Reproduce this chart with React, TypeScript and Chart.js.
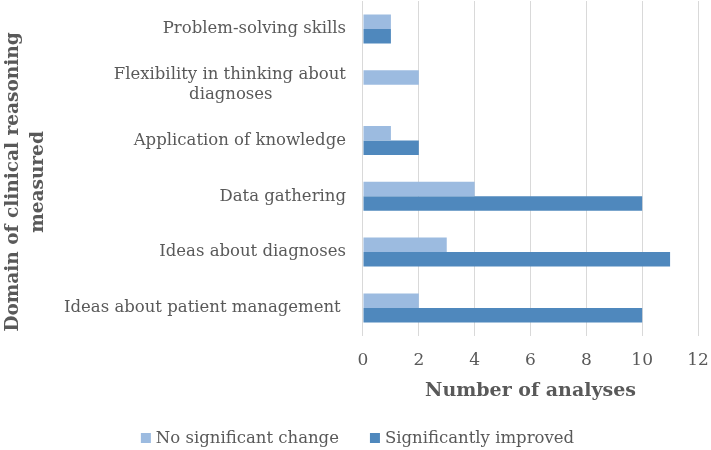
import React, { useEffect, useRef } from "react";
import { Chart, registerables } from "chart.js";

Chart.register(...registerables);

const categories: (string | string[])[] = [
  "Problem-solving skills",
  ["Flexibility in thinking about", "diagnoses"],
  "Application of knowledge",
  "Data gathering",
  "Ideas about diagnoses",
  "Ideas about patient management ",
];
const noChange = [1, 2, 1, 4, 3, 2];
const improved = [1, 0, 2, 10, 11, 10];
const xTicks = [0, 2, 4, 6, 8, 10, 12];
const yTitle = ["Domain of clinical reasoning", "measured"];
const xTitle = "Number of analyses";

const FONT = "'DejaVu Serif', serif";
const GREY = "#595959";
const LABEL_SIZE = 16.5;

// centre shorter lines of a multi-line label under the longest one
function centreLines(lines: string[]): string[] {
  const c = document.createElement("canvas").getContext("2d")!;
  c.font = `${LABEL_SIZE}px ${FONT}`;
  const widths = lines.map((l) => c.measureText(l).width);
  const max = Math.max(...widths);
  const sp = c.measureText("\u00a0").width;
  return lines.map((l, i) => l + "\u00a0".repeat(Math.round((max - widths[i]) / 2 / sp)));
}

const yTitlePlugin = {
  id: "yTitlePlugin",
  afterDraw(chart: any) {
    const ctx = chart.ctx;
    ctx.save();
    ctx.font = `bold 18.5px ${FONT}`;
    ctx.fillStyle = GREY;
    ctx.textAlign = "center";
    ctx.textBaseline = "middle";
    const cy = 182;
    const xs = [13, 38];
    yTitle.forEach((t, i) => {
      ctx.save();
      ctx.translate(xs[i], cy);
      ctx.rotate(-Math.PI / 2);
      ctx.fillText(t, 0, 0);
      ctx.restore();
    });
    ctx.restore();
  },
};

// legend drawn from the chart's own datasets
const legendPlugin = {
  id: "bottomLegend",
  afterDraw(chart: any) {
    const ctx = chart.ctx;
    const ds = chart.data.datasets;
    const box = 10;
    const gapText = 5;
    const gapItem = 31;
    ctx.save();
    ctx.font = `16.5px ${FONT}`;
    const widths = ds.map((d: any) => box + gapText + ctx.measureText(d.label).width);
    const total = widths.reduce((a: number, b: number) => a + b, 0) + gapItem * (ds.length - 1);
    let x = chart.width / 2 + 2 - total / 2;
    const cy = 438;
    ds.forEach((d: any, i: number) => {
      ctx.fillStyle = d.backgroundColor;
      ctx.fillRect(x, cy - box / 2, box, box);
      ctx.fillStyle = GREY;
      ctx.textAlign = "left";
      ctx.textBaseline = "middle";
      ctx.fillText(d.label, x + box + gapText, cy + 1);
      x += widths[i] + gapItem;
    });
    ctx.restore();
  },
};

export default function App() {
  const ref = useRef<HTMLCanvasElement | null>(null);
  useEffect(() => {
    document.body.style.margin = "0";
    const chart = new Chart(ref.current!, {
      type: "bar",
      data: {
        labels: categories,
        datasets: [
          {
            label: "No significant change",
            data: noChange,
            backgroundColor: "#9cbbe0",
            categoryPercentage: 0.52,
            barPercentage: 1,
          },
          {
            label: "Significantly improved",
            data: improved,
            backgroundColor: "#4f88bd",
            categoryPercentage: 0.52,
            barPercentage: 1,
          },
        ],
      },
      plugins: [yTitlePlugin, legendPlugin],
      options: {
        indexAxis: "y",
        animation: false,
        responsive: false,
        layout: { padding: { top: 1, right: 0, left: 47, bottom: 39 } },
        plugins: {
          legend: { display: false },
          tooltip: { enabled: false },
        },
        scales: {
          x: {
            min: 0,
            max: 12,
            afterBuildTicks: (s: any) => {
              s.ticks = xTicks.map((v) => ({ value: v }));
            },
            afterFit: (s: any) => {
              s.paddingRight = 13;
              s.paddingLeft = 0;
            },
            grid: { color: "#d9d9d9", drawTicks: false },
            border: { display: false },
            ticks: {
              color: GREY,
              font: { family: FONT, size: 17 },
              padding: 15,
            },
            title: {
              display: true,
              text: xTitle,
              color: GREY,
              font: { family: FONT, size: 19, weight: "bold" },
              padding: { top: -7, bottom: 9 },
            },
          },
          y: {
            grid: { display: false, drawTicks: false },
            border: { display: false },
            afterFit: (s: any) => {
              s.paddingTop = 0;
              s.paddingBottom = 0;
            },
            ticks: {
              color: GREY,
              font: { family: FONT, size: LABEL_SIZE },
              padding: 17,
              callback: (_v: any, i: number) => {
                const l = categories[i];
                return Array.isArray(l) ? centreLines(l) : l;
              },
            },
          },
        },
      },
    });
    return () => chart.destroy();
  }, []);
  return (
    <div style={{ width: 711, height: 450 }}>
      <canvas ref={ref} width={711} height={450} />
    </div>
  );
}
